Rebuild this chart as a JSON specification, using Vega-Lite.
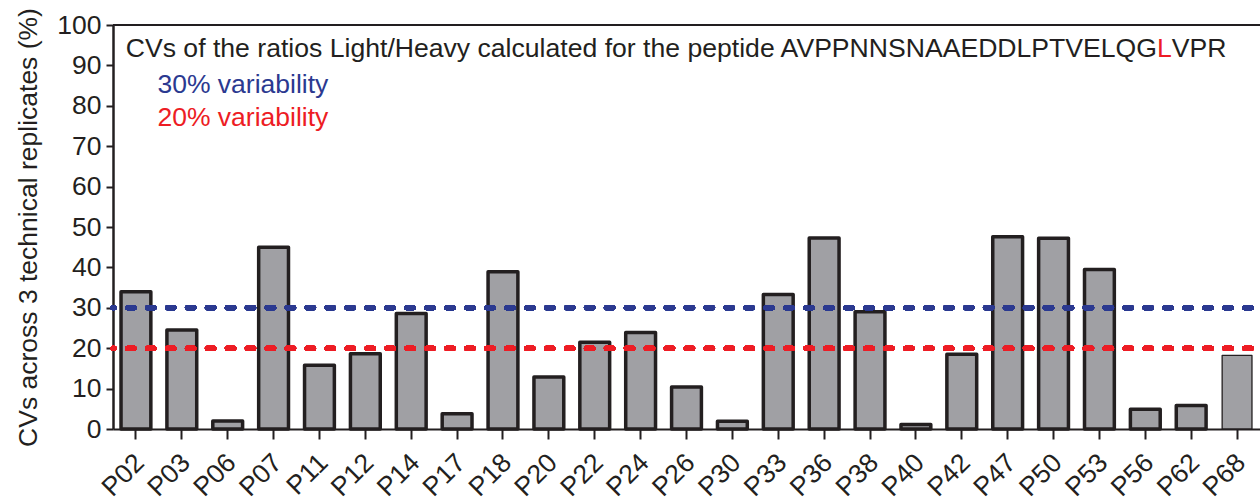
{
  "$schema": "https://vega.github.io/schema/vega-lite/v6.json",
  "autosize": {"type": "none"},
  "padding": {"left": 113, "top": 25, "right": 0, "bottom": 73},
  "width": 1147,
  "height": 404,
  "config": {
    "view": {"stroke": null},
    "font": "Liberation Sans",
    "axis": {"grid": false, "domainColor": "#231f20", "tickColor": "#231f20", "labelColor": "#231f20", "titleColor": "#231f20", "labelFont": "Liberation Sans", "titleFont": "Liberation Sans", "titleFontWeight": "normal"}
  },
  "data": {
    "values": [
      {"peptide": "P02", "cv": 34.0},
      {"peptide": "P03", "cv": 24.5},
      {"peptide": "P06", "cv": 2.0},
      {"peptide": "P07", "cv": 45.0},
      {"peptide": "P11", "cv": 15.8},
      {"peptide": "P12", "cv": 18.6},
      {"peptide": "P14", "cv": 28.6},
      {"peptide": "P17", "cv": 3.8},
      {"peptide": "P18", "cv": 38.9},
      {"peptide": "P20", "cv": 12.9},
      {"peptide": "P22", "cv": 21.5},
      {"peptide": "P24", "cv": 23.9},
      {"peptide": "P26", "cv": 10.4},
      {"peptide": "P30", "cv": 1.9},
      {"peptide": "P33", "cv": 33.3},
      {"peptide": "P36", "cv": 47.3},
      {"peptide": "P38", "cv": 29.0},
      {"peptide": "P40", "cv": 1.1},
      {"peptide": "P42", "cv": 18.5},
      {"peptide": "P47", "cv": 47.6},
      {"peptide": "P50", "cv": 47.2},
      {"peptide": "P53", "cv": 39.5},
      {"peptide": "P56", "cv": 4.9},
      {"peptide": "P62", "cv": 5.8},
      {"peptide": "P68", "cv": 18.2}
    ]
  },
  "layer": [
    {
      "mark": {"type": "bar", "fill": "#a0a0a4", "stroke": "#231f20", "strokeJoin": "round"},
      "encoding": {
        "x": {
          "field": "peptide", "type": "nominal", "sort": null,
          "scale": {"paddingInner": 0.35, "paddingOuter": 0.175},
          "axis": {"title": null, "labelAngle": -45, "labelFontSize": 26.5, "labelPadding": 10, "labelOffset": -5, "tickSize": 10, "tickWidth": 2, "domainWidth": 2}
        },
        "y": {
          "field": "cv", "type": "quantitative",
          "scale": {"domain": [0, 100], "nice": false},
          "axis": {"title": "CVs across 3 technical replicates (%)", "values": [0, 10, 20, 30, 40, 50, 60, 70, 80, 90, 100], "labelFontSize": 26.5, "titleFontSize": 26.5, "labelPadding": 5, "titlePadding": 14, "tickSize": 7, "tickWidth": 2, "domainWidth": 2.5}
        },
        "strokeWidth": {"condition": {"test": "datum.peptide === 'P68'", "value": 1.3}, "value": 3.5}
      }
    },
    {
      "mark": {"type": "rule", "stroke": "#2b3990", "strokeWidth": 5, "strokeDash": [6.5, 13.45], "strokeDashOffset": 11.2, "strokeCap": "round"},
      "encoding": {"y": {"datum": 30}}
    },
    {
      "mark": {"type": "rule", "stroke": "#ed1c24", "strokeWidth": 5, "strokeDash": [6.5, 13.45], "strokeDashOffset": 11.2, "strokeCap": "round"},
      "encoding": {"y": {"datum": 20}}
    },
    {
      "mark": {"type": "rule", "stroke": "#231f20", "strokeWidth": 1.5},
      "encoding": {"y": {"datum": 100}}
    },
    {
      "data": {"values": [{"note": "CVs of the ratios Light/Heavy calculated for the peptide AVPPNNSNAAEDDLPTVELQG\u00a0\u00a0VPR"}]},
      "mark": {"type": "text", "align": "right", "baseline": "alphabetic", "fontSize": 26.6, "fill": "#231f20", "dx": -10.6},
      "encoding": {"x": {"datum": "P68"}, "y": {"datum": 92.1}, "text": {"field": "note"}}
    },
    {
      "data": {"values": [{"note": "L"}]},
      "mark": {"type": "text", "align": "right", "baseline": "alphabetic", "fontSize": 26.6, "fill": "#ed1c24", "dx": -65.3},
      "encoding": {"x": {"datum": "P68"}, "y": {"datum": 92.1}, "text": {"field": "note"}}
    },
    {
      "data": {"values": [{"note": "30% variability"}]},
      "mark": {"type": "text", "align": "left", "baseline": "alphabetic", "fontSize": 26.5, "fill": "#2b3990", "dx": 21.5},
      "encoding": {"x": {"datum": "P02"}, "y": {"datum": 83.2}, "text": {"field": "note"}}
    },
    {
      "data": {"values": [{"note": "20% variability"}]},
      "mark": {"type": "text", "align": "left", "baseline": "alphabetic", "fontSize": 26.5, "fill": "#ed1c24", "dx": 21.5},
      "encoding": {"x": {"datum": "P02"}, "y": {"datum": 75.0}, "text": {"field": "note"}}
    }
  ]
}
